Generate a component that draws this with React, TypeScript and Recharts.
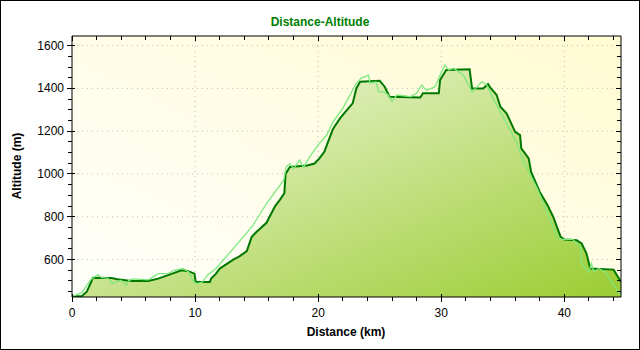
import { Area, CartesianGrid, ComposedChart, Line, XAxis, YAxis } from "recharts";

// smoothed track (dark line)
const smoothDistKm = [
  0, 0.8, 1.2, 1.5, 1.7, 3.2, 3.7, 4.8, 6.2, 7.0, 7.8, 8.9, 9.4, 9.95, 10.05, 11.2, 11.3, 11.7, 12.0,
  13.1, 13.6, 14.2, 14.6, 15.0, 15.8, 16.5, 16.9, 17.25, 17.35, 17.7, 19.1, 19.7, 20.1, 20.5, 20.8,
  21.2, 21.8, 22.5, 22.8, 23.1, 23.4, 25.0, 25.4, 25.8, 28.3, 28.5, 29.8, 29.9, 30.4, 32.3, 32.5,
  33.4, 33.8, 34.0, 34.5, 34.8, 35.3, 36.0, 36.4, 36.5, 37.1, 37.3, 38.0, 38.6, 39.1, 39.4, 39.7,
  40.0, 41.0, 41.4, 41.8, 42.1, 44.0, 44.6,
];
const smoothAltM = [
  428, 430, 450, 488, 515, 514, 508, 500, 500, 511, 527, 550, 547, 534, 495, 495, 511, 534, 558,
  600, 615, 640, 706, 730, 772, 850, 880, 910, 1000, 1033, 1040, 1049, 1073, 1104, 1150,
  1210, 1262, 1310, 1330, 1400, 1431, 1436, 1408, 1361, 1358, 1377, 1377, 1439, 1486, 1490, 1400,
  1400, 1420, 1402, 1369, 1314, 1284, 1197, 1182, 1120, 1073, 1010, 916, 858, 799, 752, 706,
  694, 690, 675, 628, 558, 553, 495,
];

// raw gps altitude (light line)
const rawDistKm = [
  0, 0.8, 1.5, 2.1, 2.4, 2.9, 3.3, 4.0, 4.4, 4.6, 4.9, 6.2, 7.0, 7.8, 8.3, 9.0, 9.5, 9.8, 10.1, 10.6,
  11.0, 11.7, 13.1, 14.7, 15.8, 17.2, 17.4, 17.7, 18.0, 18.5, 18.8, 19.3, 20.1, 20.7, 21.2, 22.0,
  23.1, 23.5, 24.1, 24.2, 24.7, 24.9, 25.3, 25.7, 26.0, 26.4, 27.5, 28.0, 28.4, 28.8, 29.5, 29.9,
  30.3, 30.6, 31.0, 31.8, 32.5, 33.3, 33.7, 34.2, 34.8, 36.1, 36.7, 37.8, 38.8, 39.4, 39.8, 40.7,
  41.3, 41.4, 42.0, 42.2, 42.4, 42.8, 43.3, 44.6,
];
const rawAltM = [
  428, 445, 505, 530, 516, 513, 488, 503, 478, 500, 510, 505, 534, 534, 550, 558, 542, 503, 488, 495,
  527, 558, 651, 760, 862, 971, 1033, 1048, 1025, 1065, 1030, 1080, 1143, 1182, 1244, 1307,
  1424, 1448, 1462, 1424, 1431, 1384, 1384, 1369, 1338, 1369, 1362, 1377, 1416, 1390, 1408, 1462,
  1509, 1486, 1494, 1462, 1384, 1431, 1416, 1353, 1290, 1150, 1057, 932, 792, 706, 694, 694,
  659, 581, 542, 581, 542, 558, 542, 430,
];

const xTicks = [0, 2, 4, 6, 8, 10, 12, 14, 16, 18, 20, 22, 24, 26, 28, 30, 32, 34, 36, 38, 40, 42, 44];
const xLabels = [0, 10, 20, 30, 40];
const yTicks = [
  450, 500, 550, 600, 650, 700, 750, 800, 850, 900, 950, 1000, 1050, 1100, 1150, 1200, 1250, 1300,
  1350, 1400, 1450, 1500, 1550, 1600,
];
const yLabels = [600, 800, 1000, 1200, 1400, 1600];

const smoothData = smoothDistKm.map((d, i) => ({ d, alt: smoothAltM[i] }));
const rawData = rawDistKm.map((d, i) => ({ d, raw: rawAltM[i] }));

const X_DOMAIN: [number, number] = [0, 44.6];
const Y_DOMAIN: [number, number] = [425, 1645];
const FONT = '"Liberation Sans", Arial, sans-serif';

// plot frame (chart margins + axis sizes below)
const PLOT_LEFT = 72;
const PLOT_RIGHT = 621;

type TickProps = { x?: number; y?: number; payload?: { value: number } };

function BottomTick({ x = 0, y = 0, payload }: TickProps) {
  const v = payload?.value ?? 0;
  const major = xLabels.includes(v);
  return (
    <g>
      <line x1={x} x2={x} y1={major ? y - 3 : y} y2={major ? y + 5 : y + 4} stroke="#000" shapeRendering="crispEdges" />
      {major && (
        <text x={x} y={y + 20} textAnchor="middle" fontSize={12} fill="#000" fontFamily={FONT}>
          {v}
        </text>
      )}
    </g>
  );
}

function TopTick({ x = 0, y = 0, payload }: TickProps) {
  const major = xLabels.includes(payload?.value ?? -1);
  return <line x1={x} x2={x} y1={y} y2={y + (major ? 5 : 4)} stroke="#000" shapeRendering="crispEdges" />;
}

function LeftTick({ y = 0, payload }: TickProps) {
  const v = payload?.value ?? 0;
  const major = yLabels.includes(v);
  const x = PLOT_LEFT;
  return (
    <g>
      <line x1={major ? x - 5 : x - 4} x2={major ? x + 3 : x} y1={y} y2={y} stroke="#000" shapeRendering="crispEdges" />
      {major && (
        <text x={x - 8} y={y + 4} textAnchor="end" fontSize={12} fill="#000" fontFamily={FONT}>
          {v}
        </text>
      )}
    </g>
  );
}

function RightTick({ y = 0, payload }: TickProps) {
  const major = yLabels.includes(payload?.value ?? -1);
  const x = PLOT_RIGHT;
  return <line x1={x - (major ? 5 : 4)} x2={x} y1={y} y2={y} stroke="#000" shapeRendering="crispEdges" />;
}

export default function App() {
  return (
    <div style={{ position: "absolute", left: 0, top: 0, width: 640, height: 350, background: "#fff", fontFamily: FONT }}>
      <ComposedChart width={640} height={350} data={smoothData} margin={{ top: 35, right: 18, bottom: 0, left: 0 }}>
        <defs>
          <linearGradient id="bgGrad" x1="0" y1="1" x2="1" y2="0">
            <stop offset="0%" stopColor="#fffffc" />
            <stop offset="100%" stopColor="#fffbd2" />
          </linearGradient>
          <linearGradient id="areaGrad" x1="0" y1="0" x2="1" y2="1">
            <stop offset="0%" stopColor="#f6f9e8" />
            <stop offset="100%" stopColor="#9acd32" />
          </linearGradient>
        </defs>
        <CartesianGrid
          xAxisId="b"
          yAxisId="l"
          horizontalValues={yLabels}
          verticalValues={xLabels.slice(1)}
          fill="url(#bgGrad)"
          stroke="#bdbdbd"
          strokeDasharray="1 4"
        />
        <XAxis
          xAxisId="b"
          type="number"
          dataKey="d"
          domain={X_DOMAIN}
          ticks={xTicks}
          interval={0}
          allowDataOverflow
          height={53}
          tickSize={0}
          tickMargin={0}
          tickLine={false}
          axisLine={{ stroke: "#000" }}
          tick={(p: TickProps) => <BottomTick {...p} />}
        />
        <XAxis
          xAxisId="t"
          orientation="top"
          type="number"
          dataKey="d"
          domain={X_DOMAIN}
          ticks={xTicks}
          interval={0}
          allowDataOverflow
          height={1}
          tickSize={0}
          tickMargin={0}
          tickLine={false}
          axisLine={{ stroke: "#000" }}
          tick={(p: TickProps) => <TopTick {...p} />}
        />
        <YAxis
          yAxisId="l"
          type="number"
          domain={Y_DOMAIN}
          ticks={yTicks}
          interval={0}
          allowDataOverflow
          width={72}
          tickSize={0}
          tickMargin={0}
          tickLine={false}
          axisLine={{ stroke: "#000" }}
          tick={(p: TickProps) => <LeftTick {...p} />}
        />
        <YAxis
          yAxisId="r"
          orientation="right"
          type="number"
          domain={Y_DOMAIN}
          ticks={yTicks}
          interval={0}
          allowDataOverflow
          width={1}
          tickSize={0}
          tickMargin={0}
          tickLine={false}
          axisLine={{ stroke: "#000" }}
          tick={(p: TickProps) => <RightTick {...p} />}
        />
        <Area
          xAxisId="b"
          yAxisId="l"
          data={smoothData}
          dataKey="alt"
          type="linear"
          stroke="#007800"
          strokeWidth={2}
          fill="url(#areaGrad)"
          fillOpacity={1}
          dot={false}
          activeDot={false}
          isAnimationActive={false}
        />
        <Line
          xAxisId="b"
          yAxisId="l"
          data={rawData}
          dataKey="raw"
          type="linear"
          stroke="#7ee87e"
          strokeWidth={1.3}
          dot={false}
          activeDot={false}
          isAnimationActive={false}
        />
      </ComposedChart>
      <div style={{ position: "absolute", left: 0, top: 15, width: 640, textAlign: "center", fontSize: 12, fontWeight: "bold", color: "#008000", lineHeight: "14px" }}>
        Distance-Altitude
      </div>
      <div style={{ position: "absolute", left: 17, top: 166, transform: "translate(-50%, -50%) rotate(-90deg)", fontSize: 12, fontWeight: "bold", whiteSpace: "nowrap", lineHeight: "14px" }}>
        Altitude (m)
      </div>
      <div style={{ position: "absolute", left: 346, top: 332, transform: "translate(-50%, -50%)", fontSize: 12, fontWeight: "bold", whiteSpace: "nowrap", lineHeight: "14px" }}>
        Distance (km)
      </div>
      <div style={{ position: "absolute", left: 0, top: 0, width: 640, height: 350, boxSizing: "border-box", border: "1px solid #000", pointerEvents: "none" }} />
    </div>
  );
}
